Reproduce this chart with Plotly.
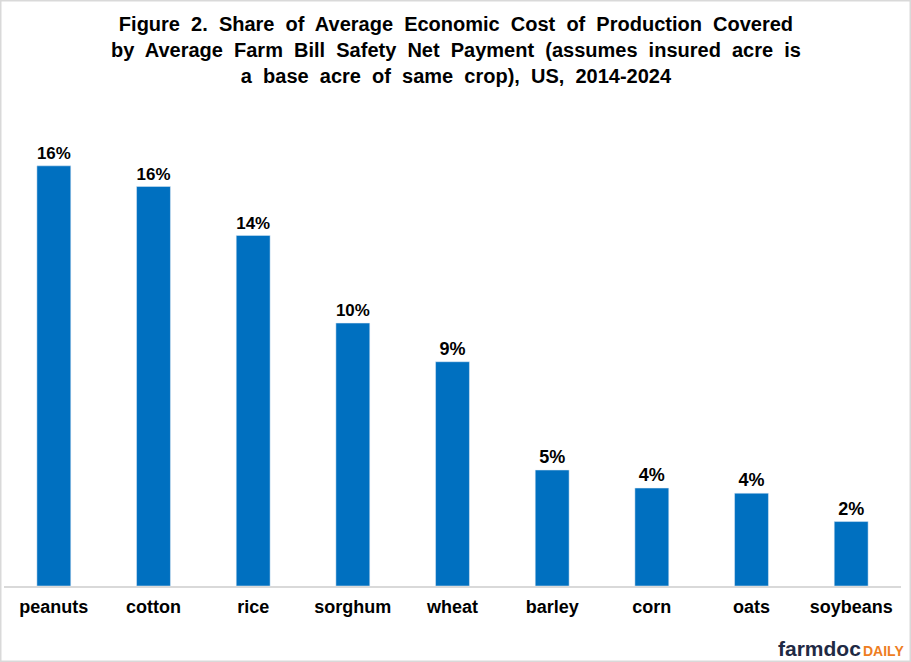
import plotly.graph_objects as go

crops = ["peanuts", "cotton", "rice", "sorghum", "wheat", "barley", "corn", "oats", "soybeans"]
share = [16.3, 15.5, 13.6, 10.2, 8.7, 4.5, 3.8, 3.6, 2.5]
labels = ["16%", "16%", "14%", "10%", "9%", "5%", "4%", "4%", "2%"]

sp = "&nbsp; "
title_lines = [
    "Figure 2. Share of Average Economic Cost of Production Covered",
    "by Average Farm Bill Safety Net Payment (assumes insured acre is",
    "a base acre of same crop), US, 2014-2024",
]
title = "<b>" + "<br>".join(l.replace(" ", sp) for l in title_lines) + "</b>"

W, H = 911, 662
ml, mr, mt, mb = 4, 10, 122, 76
pw, ph = W - ml - mr, H - mt - mb

fig = go.Figure(go.Bar(
    x=crops, y=share, text=labels, textposition="outside",
    texttemplate="<b>%{text}</b>",
    textfont=dict(family="Arial", size=18, color="black"),
    marker_color="#0070C0", cliponaxis=False,
))

fig.update_layout(
    width=W, height=H,
    margin=dict(l=ml, r=mr, t=mt, b=mb),
    plot_bgcolor="white", paper_bgcolor="white",
    bargap=0.66,
    showlegend=False,
    font=dict(family="Arial", color="black"),
)
fig.update_xaxes(showline=True, linecolor="#d9d9d9", linewidth=1.5, ticks="",
                 tickfont=dict(family="Arial", size=18, color="black"),
                 tickprefix="<b>", ticksuffix="</b>", ticklabelstandoff=4)
fig.update_yaxes(visible=False, range=[0, 18])

# title as an annotation so the top line is placed reliably
fig.add_annotation(text=title, xref="paper", yref="paper",
                   x=(W / 2 - ml) / pw, y=1 + (mt - 11) / ph,
                   xanchor="center", yanchor="top", showarrow=False,
                   font=dict(family="Arial", size=20, color="black"))

# thin grey frame round the whole chart
fig.add_shape(type="rect", xref="paper", yref="paper",
              x0=-(ml - 0.75) / pw, x1=1 + (mr - 0.75) / pw,
              y0=-(mb - 0.75) / ph, y1=1 + (mt - 0.75) / ph,
              line=dict(color="#d9d9d9", width=1.5), fillcolor="rgba(0,0,0,0)")

# farmdocDAILY logo
split_x = (862 - ml) / pw
logo_y = -(661 - (H - mb)) / ph
fig.add_annotation(text="<b>farmdoc</b>", xref="paper", yref="paper",
                   x=split_x, y=logo_y, xanchor="right", yanchor="bottom",
                   showarrow=False, borderpad=0,
                   font=dict(family="Arial", size=21, color="#1f2a44"))
fig.add_annotation(text="<b>DAILY</b>", xref="paper", yref="paper",
                   x=split_x, y=logo_y + 1.5 / ph, xanchor="left", yanchor="bottom",
                   showarrow=False, borderpad=0,
                   font=dict(family="Arial", size=14, color="#ee7d22"))

fig.write_html("out.html", config={"displayModeBar": False},
               post_script="document.body.style.margin='0';")
